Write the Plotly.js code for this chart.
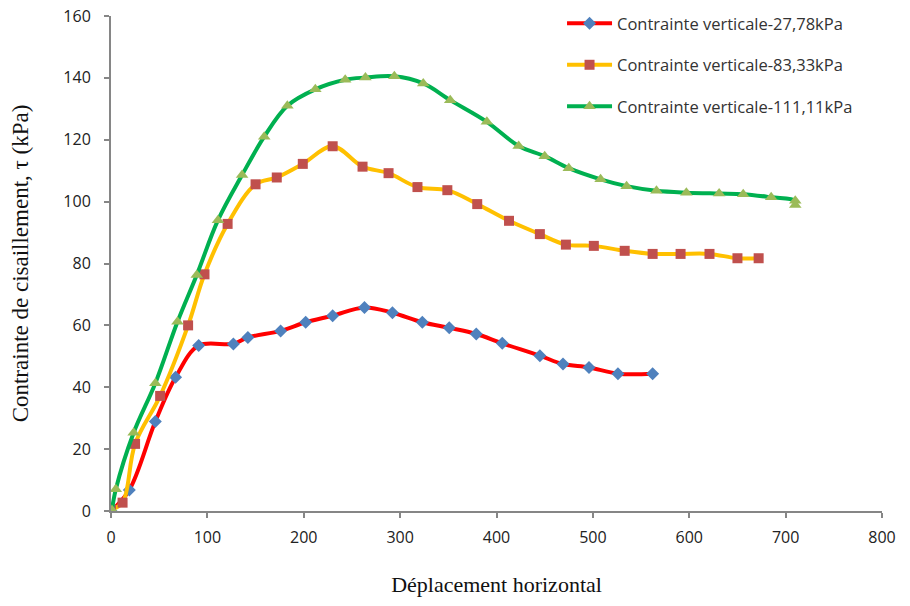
<!DOCTYPE html>
<html>
<head>
<meta charset="utf-8">
<script src="https://cdn.plot.ly/plotly-3.0.1.min.js"></script>
<style>html,body{margin:0;padding:0;background:#fff;}#chart{width:910px;height:606px;}</style>
</head>
<body>
<div id="chart"></div>
<script>
// Series names
const seriesNames = ["Contrainte verticale-27,78kPa", "Contrainte verticale-83,33kPa", "Contrainte verticale-111,11kPa"];

// Série 27,78 kPa
const xRed = [0, 19, 46, 67, 91, 127, 142, 176, 202, 230, 263, 292, 323, 351, 379, 406, 445, 469, 496, 526, 562];
const yRed = [0, 6.8, 28.9, 43.2, 53.5, 54, 56.1, 58.2, 61, 63.1, 65.8, 64.1, 61, 59.2, 57.2, 54.2, 50.2, 47.5, 46.4, 44.4, 44.4];

// Série 83,33 kPa
const xYellow = [0, 12, 25, 51, 80, 97, 121, 150, 172, 199, 230, 261, 288, 318, 349, 380, 413, 445, 472, 501, 533, 562, 591, 621, 650, 672];
const yYellow = [0.5, 2.7, 21.7, 37.2, 60, 76.5, 92.8, 105.6, 107.8, 112.2, 117.9, 111.3, 109.2, 104.7, 103.7, 99.2, 93.8, 89.5, 86.1, 85.7, 84.1, 83.1, 83.1, 83.1, 81.7, 81.7];

// Série 111,11 kPa
const xGreen = [1, 5, 23.5, 46, 69, 89, 111, 136, 159, 183, 212, 243, 264, 294, 324, 352, 390, 423, 450, 475, 508, 535, 566, 597, 631, 656, 685, 710, 710];
const yGreen = [0.3, 7, 25.3, 41.3, 61.2, 76.3, 94, 108.6, 121, 131, 136.3, 139.4, 140.1, 140.5, 138.2, 132.8, 125.8, 118, 114.7, 110.8, 107.2, 105, 103.5, 102.9, 102.6, 102.4, 101.4, 100.3, 98.9];

const xTicks = [0, 100, 200, 300, 400, 500, 600, 700, 800];
const yTicks = [0, 20, 40, 60, 80, 100, 120, 140, 160];

function mk(x, y, name, lineColor, sym, mColor, mSize, grp) {
  return {
    x: x, y: y, name: name, type: 'scatter', mode: 'lines+markers',
    legendgroup: grp,
    line: {color: lineColor, width: 4, shape: 'spline', smoothing: 1},
    marker: {symbol: sym, color: mColor, size: mSize, line: {width: 0}}
  };
}

const traces = [
  mk(xRed, yRed, seriesNames[0], '#FF0000', 'diamond', '#4F81BD', 10, 'a'),
  mk(xYellow, yYellow, seriesNames[1], '#FFC000', 'square', '#C0504D', 10, 'b'),
  mk(xGreen, yGreen, seriesNames[2], '#00B050', 'triangle-up', '#9BBB59', 11, 'c')
];

const axisCommon = {
  showgrid: false, zeroline: false, showline: true,
  linecolor: '#868686', linewidth: 2,
  ticks: 'outside', ticklen: 5, tickwidth: 2, tickcolor: '#868686',
  tickfont: {family: '"Open Sans", sans-serif', size: 16, color: '#222'}
};

const layout = {
  width: 910, height: 606,
  margin: {l: 111, r: 28, t: 16, b: 95, autoexpand: false},
  paper_bgcolor: '#fff', plot_bgcolor: '#fff',
  xaxis: Object.assign({}, axisCommon, {
    range: [0, 800], tickvals: xTicks, ticktext: xTicks.map(String),
    ticklabelstandoff: 6,
    title: {text: 'Déplacement horizontal', standoff: 29,
      font: {family: '"Liberation Serif", "Times New Roman", serif', size: 22, color: '#111'}}
  }),
  yaxis: Object.assign({}, axisCommon, {
    range: [0, 160], tickvals: yTicks, ticktext: yTicks.map(String),
    ticklabelstandoff: 10,
    title: {text: 'Contrainte de cisaillement, τ (kPa)', standoff: 28,
      font: {family: '"Liberation Serif", "Times New Roman", serif', size: 23, color: '#111'}}
  }),
  showlegend: true,
  legend: {
    x: 0.585, y: 1.02, xanchor: 'left', yanchor: 'top',
    bgcolor: 'rgba(0,0,0,0)',
    font: {family: '"Open Sans", sans-serif', size: 16.5, color: '#333'},
    tracegroupgap: 17, itemwidth: 45
  }
};

Plotly.newPlot('chart', traces, layout, {displayModeBar: false, staticPlot: true});
</script>
</body>
</html>
